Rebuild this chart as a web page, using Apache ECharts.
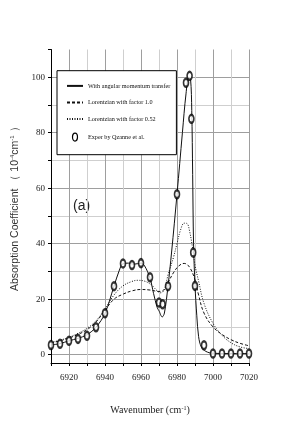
<!DOCTYPE html>
<html><head><meta charset="utf-8">
<script src="https://cdn.jsdelivr.net/npm/echarts@6/dist/echarts.min.js"></script>
<style>html,body{margin:0;padding:0;background:#fff}#c{width:289px;height:436px}</style>
</head><body><div id="c"></div>
<script>
// Experimental points (Qzanne et al.)
const expX = [6910,6915,6920,6925,6930,6935,6940,6945,6950,6955,6960,6965,6970,6972,6975,6980,6985,6987,6988,6989,6990,6995,7000,7005,7010,7015,7020];
const expY = [3.5,3.9,5.0,5.7,6.8,9.9,14.9,24.7,32.9,32.3,33.0,27.9,18.8,18.2,24.7,57.8,98.0,100.5,85.0,36.8,24.8,3.4,0.4,0.4,0.4,0.4,0.4];

// With angular momentum transfer (solid)
const solidX = [6910,6915,6920,6925,6930,6935,6940,6945,6948,6950,6953,6956,6960,6962,6965,6967,6969,6970,6971.8,6973,6975,6977,6980,6983,6985,6986.5,6987.5,6988.2,6988.7,6989.2,6990,6991,6992,6993.5,6996,7000,7010,7020];
const solidY = [3.5,4.0,5.0,5.9,7.2,9.9,14.9,24.7,30.5,32.8,33.0,32.6,33.0,32.0,27.6,22.0,17.0,15.8,13.6,15.0,24.7,37.0,57.8,80.0,94.0,99.8,99.5,88.0,65.0,40.0,25.0,14.0,6.5,2.8,1.2,0.5,0.4,0.4];

// Lorentzian with factor 1.0 (dashed)
const lor10X = [6910,6915,6920,6925,6930,6935,6940,6945,6950,6955,6960,6965,6970,6972,6975,6978,6981,6984,6987,6990,6992,6995,7000,7005,7010,7015,7020];
const lor10Y = [4.2,5.0,6.0,7.3,9.0,11.8,16.0,20.0,21.8,23.0,23.5,23.3,22.8,23.0,26.0,29.5,32.0,32.9,31.5,26.9,21.5,15.0,10.0,7.3,5.4,4.1,3.2];

// Lorentzian with factor 0.52 (dotted)
const lor052X = [6910,6915,6920,6925,6930,6935,6940,6945,6950,6955,6958,6962,6966,6969,6971,6973,6975,6978,6980,6982,6984,6985.5,6987,6989,6990,6992,6995,7000,7005,7010,7015,7020];
const lor052Y = [4.4,5.2,6.3,7.7,9.5,12.2,16.5,21.5,24.8,26.4,26.8,26.5,25.0,23.0,22.3,23.5,28.7,35.0,40.0,45.0,47.4,47.3,44.5,37.0,32.3,26.5,18.5,11.3,7.0,4.3,2.8,2.2];

const yTicks = [0,10,20,30,40,50,60,70,80,90,100,110];
const yLabels = [0,20,40,60,80,100];

const names = ['With angular momentum transfer','Lorentzian with factor 1.0','Lorentzian with factor 0.52','Exper by Qzanne et al.'];

const zip = (xs, ys) => xs.map((x, i) => [x, ys[i]]);
const serif = 'Liberation Serif';
const ellipse = 'path://M2.5,0A2.5,4,0,1,1,2.5,8A2.5,4,0,1,1,2.5,0Z';
const dark = '#9e9e9e', light = '#cfcfcf', none = 'rgba(0,0,0,0)';

const chart = echarts.init(document.getElementById('c'), null, {renderer: 'canvas'});
chart.setOption({
  animation: false,
  backgroundColor: '#fff',
  grid: {left: 51, right: 40, top: 49.5, bottom: 73},
  xAxis: {
    type: 'value', min: 6910, max: 7020, interval: 10,
    name: 'Wavenumber (cm{s|-1})', nameLocation: 'middle', nameGap: 42,
    nameTextStyle: {fontFamily: serif, fontSize: 10, color: '#222',
      rich: {s: {fontFamily: serif, fontSize: 6, color: '#222', verticalAlign: 'top'}}},
    axisLine: {onZero: false, lineStyle: {color: '#000', width: 1}},
    axisTick: {show: true, length: 3, lineStyle: {color: '#000'}},
    axisLabel: {fontFamily: serif, fontSize: 9, color: '#222', margin: 10,
      formatter: v => (v % 20 === 0 ? String(v) : '')},
    splitLine: {show: true, lineStyle: {color: [light, dark], width: 1}}
  },
  yAxis: {
    type: 'value', min: -3, max: 110,
    name: 'Absorption Coefficient （ 10{s|-4}cm{s|-1} ）', nameLocation: 'middle', nameGap: 14, nameRotate: 90,
    nameTextStyle: {fontFamily: 'Liberation Sans', fontSize: 10.5, color: '#333',
      rich: {s: {fontFamily: 'Liberation Sans', fontSize: 6, color: '#333', verticalAlign: 'top'}}},
    axisLine: {show: true, onZero: false, lineStyle: {color: '#000', width: 1}},
    axisTick: {show: true, length: 3, customValues: yTicks, lineStyle: {color: '#000'}},
    axisLabel: {customValues: yLabels, fontFamily: serif, fontSize: 9, color: '#222', margin: 6},
    splitLine: {show: true, lineStyle: {color: [dark, light, dark, light, dark, light, dark, light, dark, light, dark, none], width: 1}}
  },
  legend: {
    orient: 'vertical', left: 57, top: 70.7,
    backgroundColor: '#fff', borderColor: '#000', borderWidth: 1,
    padding: [12, 6, 13, 9],
    itemWidth: 16, itemHeight: 8, itemGap: 10.2,
    textStyle: {fontFamily: serif, fontSize: 6.2, color: '#111'},
    data: [
      {name: names[0], itemStyle: {opacity: 0}},
      {name: names[1], itemStyle: {opacity: 0}},
      {name: names[2], itemStyle: {opacity: 0}},
      {name: names[3], icon: ellipse, itemStyle: {color: '#fff', borderColor: '#000', borderWidth: 1.2, opacity: 1}}
    ]
  },
  graphic: [{
    type: 'text', left: 73, top: 199,
    style: {text: '(a)', font: '14px "Liberation Sans"', fill: '#222'}
  }],
  series: [
    {name: names[0], type: 'line', data: zip(solidX, solidY), smooth: 0.35, symbol: 'none',
      lineStyle: {color: '#111', width: 1}, itemStyle: {color: '#111'}, z: 3},
    {name: names[1], type: 'line', data: zip(lor10X, lor10Y), smooth: 0.4, symbol: 'none',
      lineStyle: {color: '#111', width: 1, type: [3, 2]}, itemStyle: {color: '#111'}, z: 2},
    {name: names[2], type: 'line', data: zip(lor052X, lor052Y), smooth: 0.4, symbol: 'none',
      lineStyle: {color: '#111', width: 1, type: [1, 1.5]}, itemStyle: {color: '#111'}, z: 2},
    {name: names[3], type: 'scatter', data: zip(expX, expY), symbol: 'emptyCircle', symbolSize: [5, 8],
      itemStyle: {color: '#000', borderColor: '#000', borderWidth: 1.1}, z: 5}
  ]
});
</script></body></html>
